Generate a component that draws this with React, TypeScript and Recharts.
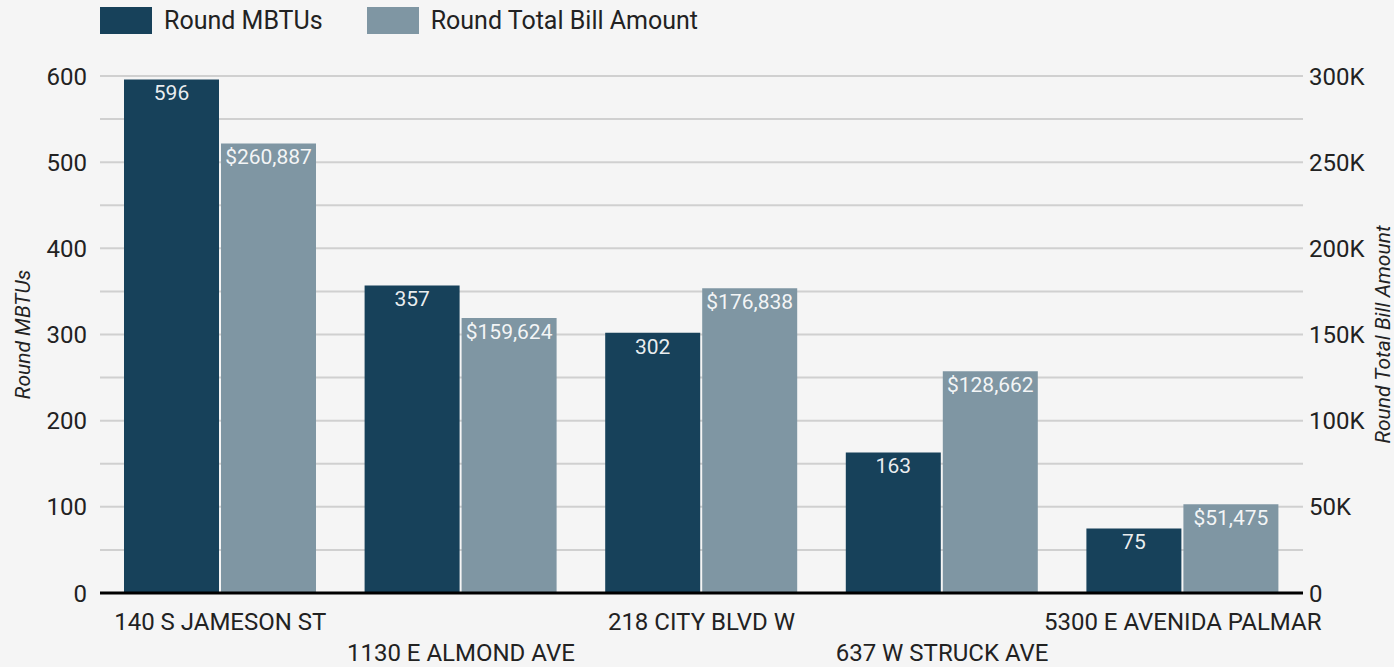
import React from 'react';
import { BarChart, Bar, XAxis, YAxis, CartesianGrid, LabelList } from 'recharts';

const addresses = ['140 S JAMESON ST', '1130 E ALMOND AVE', '218 CITY BLVD W', '637 W STRUCK AVE', '5300 E AVENIDA PALMAR'];
const mbtus = [596, 357, 302, 163, 75];
const billAmounts = [260887, 159624, 176838, 128662, 51475];
const leftTicks = [0, 50, 100, 150, 200, 250, 300, 350, 400, 450, 500, 550, 600];
const rightTicks = [0, 50000, 100000, 150000, 200000, 250000, 300000];

const series = [
  { key: 'mbtu', name: 'Round MBTUs', color: '#17415A' },
  { key: 'bill', name: 'Round Total Bill Amount', color: '#7F96A3' },
];

const data = addresses.map((name, i) => ({ name, mbtu: mbtus[i], bill: billAmounts[i] }));

const FONT = 'Roboto, "Noto Sans", sans-serif';

// staggered category labels, odd ones drop to a second row
const CategoryTick = (props: any) => {
  const { x, y, payload, index } = props;
  const dy = index % 2 === 0 ? 35 : 66;
  return (
    <text x={x} y={y + dy} textAnchor="middle" fill="#222" fontSize={24} fontFamily={FONT}>
      {payload.value}
    </text>
  );
};

const sideLabel = (text: string, side: 'left' | 'right') => (props: any) => {
  const { viewBox } = props;
  const cx = side === 'left' ? 23 : 1383;
  const cy = viewBox.y + viewBox.height / 2;
  return (
    <text
      x={cx}
      y={cy}
      transform={`rotate(-90, ${cx}, ${cy})`}
      textAnchor="middle"
      dominantBaseline="central"
      fontStyle="italic"
      fontSize={21}
      fill="#222"
      fontFamily={FONT}
    >
      {text}
    </text>
  );
};

export default function App() {
  return (
    <div style={{ position: 'fixed', left: 0, top: 0, width: 1394, height: 667, background: '#f5f5f5', fontFamily: FONT }}>
      <style>{'body { margin: 0; }'}</style>
      <div style={{ position: 'absolute', left: 100, top: 7, display: 'flex', alignItems: 'center' }}>
        {series.map(s => (
          <div key={s.key} style={{ display: 'flex', alignItems: 'center', marginRight: 44 }}>
            <div style={{ width: 52, height: 27, background: s.color }} />
            <span style={{ marginLeft: 12, fontSize: 25, color: '#222', lineHeight: '27px' }}>{s.name}</span>
          </div>
        ))}
      </div>
      <BarChart
        width={1394}
        height={667}
        data={data}
        margin={{ top: 76, right: 0, bottom: 0, left: 0 }}
        barCategoryGap={24}
        barGap={2}
      >
        <CartesianGrid yAxisId="left" vertical={false} stroke="#d0d0d0" strokeWidth={2} />
        <XAxis
          dataKey="name"
          height={74}
          interval={0}
          tick={<CategoryTick />}
          tickLine={false}
          tickSize={0}
          axisLine={{ stroke: '#000', strokeWidth: 3 }}
        />
        <YAxis
          yAxisId="left"
          width={100}
          domain={[0, 600]}
          ticks={leftTicks}
          interval={0}
          tickFormatter={(v: number) => (v % 100 === 0 ? String(v) : '')}
          axisLine={false}
          tickLine={false}
          tickSize={0}
          tickMargin={13}
          tick={{ fill: '#222', fontSize: 24, fontFamily: FONT }}
          label={{ content: sideLabel('Round MBTUs', 'left') } as any}
        />
        <YAxis
          yAxisId="right"
          orientation="right"
          width={91}
          domain={[0, 300000]}
          ticks={rightTicks}
          interval={0}
          tickFormatter={(v: number) => (v === 0 ? '0' : `${v / 1000}K`)}
          axisLine={false}
          tickLine={false}
          tickSize={0}
          tickMargin={6}
          tick={{ fill: '#222', fontSize: 24, fontFamily: FONT, textAnchor: 'start' }}
          label={{ content: sideLabel('Round Total Bill Amount', 'right') } as any}
        />
        <Bar yAxisId="left" dataKey="mbtu" name="Round MBTUs" fill={series[0].color} isAnimationActive={false}>
          <LabelList
            dataKey="mbtu"
            position="insideTop"
            offset={6}
            fill="rgba(255,255,255,0.92)"
            fontSize={21}
            fontFamily={FONT}
          />
        </Bar>
        <Bar yAxisId="right" dataKey="bill" name="Round Total Bill Amount" fill={series[1].color} isAnimationActive={false}>
          <LabelList
            dataKey="bill"
            position="insideTop"
            offset={6}
            formatter={(v: any) => `$${Number(v).toLocaleString('en-US')}`}
            fill="rgba(255,255,255,0.92)"
            fontSize={21}
            fontFamily={FONT}
          />
        </Bar>
      </BarChart>
    </div>
  );
}
